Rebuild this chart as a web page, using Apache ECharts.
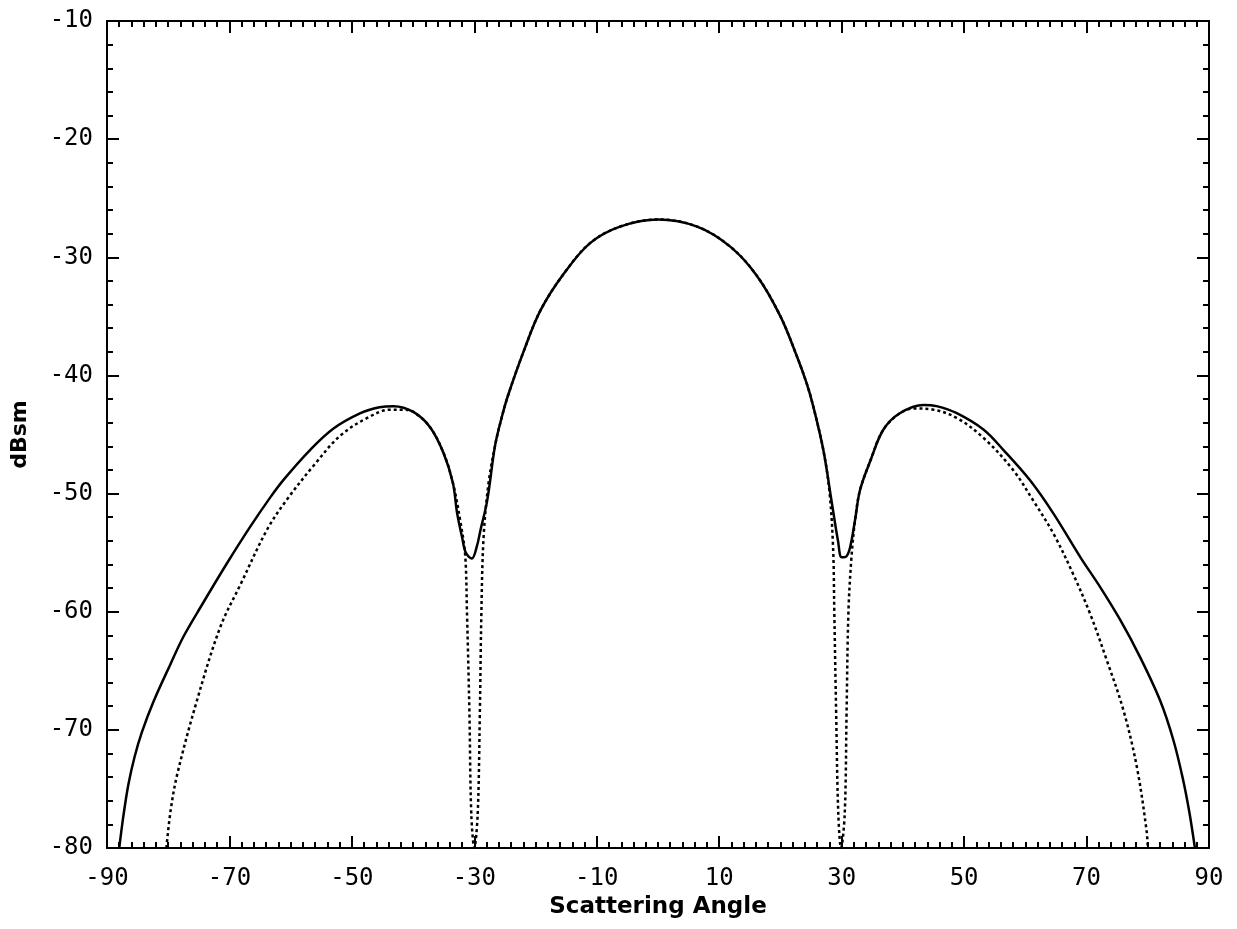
<!DOCTYPE html>
<html>
<head>
<meta charset="utf-8">
<title>Scattering Angle vs dBsm</title>
<script src="https://cdn.jsdelivr.net/npm/echarts@6/dist/echarts.min.js"></script>
<style>
  html, body { margin: 0; padding: 0; background: #ffffff; }
  #chart { width: 1237px; height: 929px; }
</style>
</head>
<body>
<div id="chart"></div>
<script>
// Solid trace: scattering angle (deg) and level (dBsm)
const solidAngle = [
  -88.0, -87.3, -86.5, -85.5, -84.3, -82.4, -79.6, -77.5, -74.7, -70.4,
  -66.6, -63.3, -61.1, -56.8, -53.0, -48.6, -45.5, -43.2, -39.9, -37.2,
  -35.0, -33.5, -32.8, -32.0, -31.4, -30.4, -29.6, -29.0, -27.9, -26.6,
  -25.5, -24.5, -21.9, -19.2, -15.4, -11.1, -6.2, 0.0, 6.4, 11.8,
  16.2, 20.0, 22.7, 24.3, 25.4, 27.0, 28.4, 29.4, 30.0, 30.8,
  31.4, 32.2, 33.0, 34.7, 36.8, 39.5, 43.4, 45.5, 48.8, 53.2,
  56.4, 60.8, 64.6, 69.0, 72.2, 75.5, 78.7, 82.0, 84.2, 85.8,
  86.8, 87.7
];
const solidDb = [
  -80.0, -77.2, -74.6, -72.3, -70.2, -67.6, -64.4, -62.1, -59.6, -55.9,
  -52.8, -50.3, -48.8, -46.3, -44.5, -43.2, -42.7, -42.6, -43.1, -44.4,
  -46.6, -49.1, -51.7, -53.7, -55.0, -55.5, -54.5, -53.1, -50.6, -45.9,
  -43.5, -41.7, -37.9, -34.5, -31.4, -28.8, -27.4, -26.8, -27.4, -29.1,
  -31.6, -35.0, -38.4, -40.7, -42.7, -46.3, -50.8, -54.0, -55.4, -55.3,
  -54.5, -52.2, -49.7, -47.2, -44.6, -43.2, -42.5, -42.6, -43.2, -44.6,
  -46.3, -48.9, -51.7, -55.4, -57.9, -60.7, -63.8, -67.5, -70.9, -74.3,
  -77.0, -80.0
];

// Dotted trace: scattering angle (deg) and level (dBsm)
const dashAngle = [
  -80.3, -79.6, -78.5, -75.3, -71.5, -68.2, -63.8, -60.6, -56.2, -51.9,
  -47.5, -43.7, -41.5, -39.9, -37.2, -35.0, -33.5, -32.3, -31.5, -31.2,
  -30.8, -30.5, -30.0, -29.45, -29.1, -28.85, -28.5, -27.7, -26.6, -25.5,
  -24.5, -21.9, -19.2, -15.4, -11.1, -6.2, 0.0, 6.4, 11.8, 16.2,
  20.0, 22.7, 24.3, 25.4, 27.0, 28.0, 28.6, 28.8, 29.1, 29.45,
  29.9, 30.5, 30.8, 31.1, 31.6, 32.2, 33.0, 34.7, 36.8, 39.5,
  41.9, 45.0, 48.8, 53.2, 58.0, 61.3, 64.6, 67.8, 70.6, 73.3,
  76.0, 78.2, 79.8, 80.0
];
const dashDb = [
  -80.0, -76.8, -73.7, -67.5, -61.3, -57.7, -53.0, -50.5, -47.6, -45.1,
  -43.6, -42.9, -42.9, -43.1, -44.4, -46.6, -49.1, -52.3, -55.2, -60.1,
  -68.6, -77.1, -80.0, -77.1, -68.6, -60.1, -53.8, -49.2, -45.9, -43.5,
  -41.7, -37.9, -34.5, -31.4, -28.8, -27.4, -26.8, -27.4, -29.1, -31.6,
  -35.0, -38.4, -40.7, -42.7, -46.3, -49.8, -54.6, -60.1, -68.6, -77.1,
  -80.0, -77.1, -68.6, -60.1, -55.4, -52.2, -49.7, -47.2, -44.6, -43.2,
  -42.8, -42.9, -43.6, -45.3, -48.0, -50.6, -53.4, -56.8, -60.2, -64.1,
  -68.3, -73.1, -78.5, -80.0
];

// Axis extents and tick spacing
const xRange = [-90, 90];
const yRange = [-80, -10];
const xStep = 20;
const yStep = 10;

const xTitle = 'Scattering Angle';
const yTitle = 'dBsm';

const pairs = (xs, ys) => xs.map((x, i) => [x, ys[i]]);

const tickFont = {
  fontFamily: '"DejaVu Sans Mono", monospace',
  fontSize: 24,
  color: '#000'
};

const titleFont = (size) => ({
  fontFamily: '"DejaVu Sans", sans-serif',
  fontWeight: 'bold',
  fontSize: size,
  color: '#000'
});

const axisStroke = { color: '#000', width: 2 };

function xAxisDef(pos, withLabels) {
  return {
    type: 'value',
    position: pos,
    min: xRange[0],
    max: xRange[1],
    interval: xStep,
    axisLine: { show: true, onZero: false, lineStyle: axisStroke },
    axisTick: { show: true, inside: true, length: 12, lineStyle: axisStroke },
    minorTick: { show: true, splitNumber: 10, length: 6, lineStyle: axisStroke },
    splitLine: { show: false },
    minorSplitLine: { show: false },
    axisLabel: Object.assign({ show: withLabels, margin: 19 }, tickFont),
    name: withLabels ? xTitle : '',
    nameLocation: 'middle',
    nameGap: 41,
    nameTextStyle: titleFont(23)
  };
}

function yAxisDef(pos, withLabels) {
  return {
    type: 'value',
    position: pos,
    min: yRange[0],
    max: yRange[1],
    interval: yStep,
    axisLine: { show: true, onZero: false, lineStyle: axisStroke },
    axisTick: { show: true, inside: true, length: 12, lineStyle: axisStroke },
    minorTick: { show: true, splitNumber: 5, length: 6, lineStyle: axisStroke },
    splitLine: { show: false },
    minorSplitLine: { show: false },
    axisLabel: Object.assign({ show: withLabels, margin: 14 }, tickFont),
    name: withLabels ? yTitle : '',
    nameLocation: 'middle',
    nameGap: 76,
    nameRotate: 90,
    nameTextStyle: titleFont(22)
  };
}

const chart = echarts.init(document.getElementById('chart'), null, { renderer: 'canvas' });

chart.setOption({
  backgroundColor: '#ffffff',
  animation: false,
  grid: { left: 107, right: 28, top: 21, bottom: 81, containLabel: false },
  xAxis: [xAxisDef('bottom', true), xAxisDef('top', false)],
  yAxis: [yAxisDef('left', true), yAxisDef('right', false)],
  series: [
    {
      type: 'line',
      xAxisIndex: 0,
      yAxisIndex: 0,
      data: pairs(dashAngle, dashDb),
      showSymbol: false,
      smooth: 0.35,
      lineStyle: { color: '#000', width: 2.5, type: [3, 3] },
      z: 2
    },
    {
      type: 'line',
      xAxisIndex: 0,
      yAxisIndex: 0,
      data: pairs(solidAngle, solidDb),
      showSymbol: false,
      smooth: 0.35,
      lineStyle: { color: '#000', width: 2.5 },
      z: 3
    }
  ]
});
</script>
</body>
</html>
